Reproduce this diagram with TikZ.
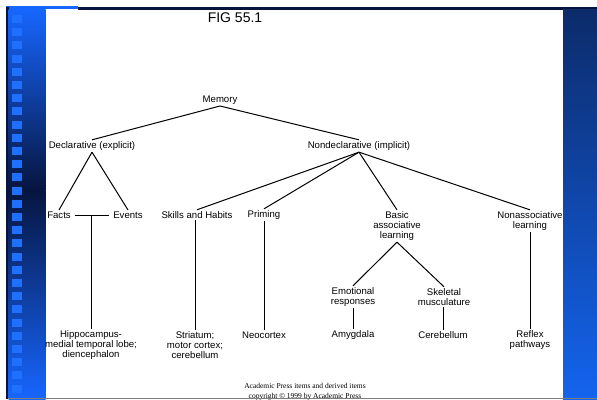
\documentclass[tikz,border=0pt]{standalone}
\usepackage{fontspec}
\setmainfont{Liberation Sans}
\newfontfamily\pressfont{Liberation Serif}
\usepackage{tikz}
\definecolor{slideblue}{HTML}{1766FF}
\definecolor{slidenavy}{HTML}{06153F}
\definecolor{slidebox}{HTML}{2070FF}
\definecolor{rightnavy}{HTML}{0C2B6A}
\definecolor{rightblue}{HTML}{1464EE}

\begin{document}
\begin{tikzpicture}[x=1pt,y=-1pt,
		lbl/.style={inner sep=1.5pt,align=center,font=\fontsize{9.6}{10}\selectfont},
		link/.style={line width=1pt}]
		\useasboundingbox (0,0) rectangle (597,399);
		\fill [white] (0,0) rectangle (597,399);
		
		\fill [slideblue] (6,5.5) rectangle (78,9);
		\fill [slidenavy] (78,7) rectangle (597,9.5);
		\fill [slidenavy] (6,7) rectangle (8.5,399);
		\shade [top color=slideblue,bottom color=slidenavy] (8.5,9) rectangle (45.5,190);
		\shade [top color=slidenavy,bottom color=slideblue] (8.5,190) rectangle (45.5,399);
		\shade [top color=rightnavy,bottom color=rightblue] (563,9.5) rectangle (597,399);
		
		\fill [slidebox] (12,15) rectangle (22,23);
		\fill [slidebox] (12,28.2) rectangle (22,36.2);
		\fill [slidebox] (12,41.4) rectangle (22,49.4);
		\fill [slidebox] (12,54.6) rectangle (22,62.6);
		\fill [slidebox] (12,67.8) rectangle (22,75.8);
		\fill [slidebox] (12,81) rectangle (22,89);
		\fill [slidebox] (12,94.2) rectangle (22,102.2);
		\fill [slidebox] (12,107.4) rectangle (22,115.4);
		\fill [slidebox] (12,120.6) rectangle (22,128.6);
		\fill [slidebox] (12,133.8) rectangle (22,141.8);
		\fill [slidebox] (12,147) rectangle (22,155);
		\fill [slidebox] (12,160.2) rectangle (22,168.2);
		\fill [slidebox] (12,173.4) rectangle (22,181.4);
		\fill [slidebox] (12,186.6) rectangle (22,194.6);
		\fill [slidebox] (12,199.8) rectangle (22,207.8);
		\fill [slidebox] (12,213) rectangle (22,221);
		\fill [slidebox] (12,226.2) rectangle (22,234.2);
		\fill [slidebox] (12,239.4) rectangle (22,247.4);
		\fill [slidebox] (12,252.6) rectangle (22,260.6);
		\fill [slidebox] (12,265.8) rectangle (22,273.8);
		\fill [slidebox] (12,279) rectangle (22,287);
		\fill [slidebox] (12,292.2) rectangle (22,300.2);
		\fill [slidebox] (12,305.4) rectangle (22,313.4);
		\fill [slidebox] (12,318.6) rectangle (22,326.6);
		\fill [slidebox] (12,331.8) rectangle (22,339.8);
		\fill [slidebox] (12,345) rectangle (22,353);
		\fill [slidebox] (12,358.2) rectangle (22,366.2);
		\fill [slidebox] (12,371.4) rectangle (22,379.4);
		\fill [slidebox] (12,384.6) rectangle (22,392.6);
		
		\node (fig) at (235,18) {\fontsize{14}{16}\selectfont FIG 55.1};
		\node [lbl] (memory) at (220,100) {Memory};
		\node [lbl] (decl) at (92,146) {Declarative (explicit)};
		\node [lbl] (nondecl) at (359,146) {Nondeclarative (implicit)};
		
		\node [lbl] (facts) at (59,215) {Facts};
		\node [lbl] (events) at (128,215) {Events};
		\node [lbl] (skills) at (197,215) {Skills and Habits};
		\node [lbl] (priming) at (264,215) {Priming};
		\node [lbl] (basic) at (397,226) {Basic\\associative\\learning};
		\node [lbl] (nonassoc) at (530,221) {Nonassociative\\learning};
		
		\node [lbl] (emotional) at (353,297) {Emotional\\responses};
		\node [lbl] (skeletal) at (444,297) {Skeletal\\musculature};
		
		\node [lbl] (hippo) at (91,345) {Hippocampus-\\medial temporal lobe;\\diencephalon};
		\node [lbl] (striatum) at (195,345) {Striatum;\\motor cortex;\\cerebellum};
		\node [lbl] (neocortex) at (264,335) {Neocortex};
		\node [lbl] (amygdala) at (353,335) {Amygdala};
		\node [lbl] (cerebellum) at (443,335) {Cerebellum};
		\node [lbl] (reflex) at (530,340) {Reflex\\pathways};
		
		\draw [link] (memory.south) -- (decl.north);
		\draw [link] (memory.south) -- (nondecl.north);
		
		\draw [link] (decl.south) -- (facts.north);
		\draw [link] (decl.south) -- (events.north);
		\draw [link,shorten <=2.5pt,shorten >=2.5pt] (facts.east) -- (events.west);
		\draw [link] (hippo.north) -- (hippo.north |- facts.east);
		
		\draw [link] (nondecl.south) -- (skills.north);
		\draw [link] (nondecl.south) -- (priming.north);
		\draw [link] (nondecl.south) -- (basic.north);
		\draw [link] (nondecl.south) -- (nonassoc.north);
		
		\draw [link] (skills.south -| striatum.north) -- (striatum.north);
		\draw [link] (priming.south) -- (neocortex.north);
		\draw [link] (basic.south) -- (emotional.north);
		\draw [link] (basic.south) -- (skeletal.north);
		\draw [link] (emotional.south) -- (amygdala.north);
		\draw [link] (skeletal.south -| cerebellum.north) -- (cerebellum.north);
		\draw [link] (nonassoc.south) -- (reflex.north);
		
		\node [align=center,font=\pressfont\fontsize{7.5}{10}\selectfont] (press) at (305,391.5) {Academic Press items and derived items\\copyright \textcopyright{} 1999 by Academic Press};
		\draw [gray,line width=1.2pt] (8,398.4) -- (597,398.4);
\end{tikzpicture}
\end{document}
